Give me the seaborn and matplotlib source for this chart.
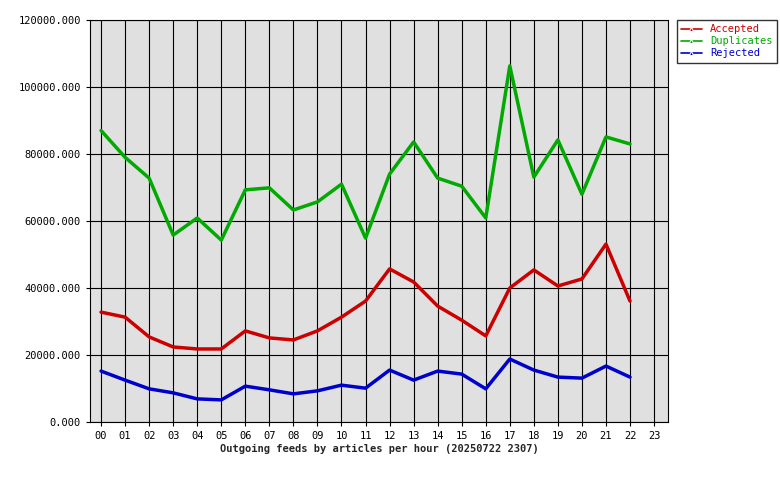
import matplotlib
matplotlib.use("Agg")
import matplotlib.pyplot as plt
import pandas as pd
import seaborn as sns
from matplotlib.ticker import FuncFormatter

hours = ["%02d" % h for h in range(23)]
all_hours = ["%02d" % h for h in range(24)]

accepted = [32800, 31300, 25400, 22400, 21800, 21800, 27200, 25100, 24500, 27200,
            31300, 36100, 45700, 41800, 34600, 30400, 25700, 40000, 45400, 40600,
            42700, 53100, 36100]
duplicates = [87000, 79000, 72800, 55800, 60900, 54300, 69300, 69900, 63300, 65700,
              71000, 54900, 74000, 83600, 72800, 70400, 60900, 106300, 73100, 84200,
              68000, 85100, 83000]
rejected = [15200, 12500, 9900, 8700, 6900, 6600, 10700, 9600, 8400, 9300,
            11000, 10100, 15500, 12500, 15200, 14300, 9900, 18800, 15500, 13400,
            13100, 16700, 13400]

series = ["Accepted", "Duplicates", "Rejected"]
colors = ["#cc0000", "#00aa00", "#0000cc"]

df = pd.DataFrame({"hour": list(range(23)) * 3,
                   "value": accepted + duplicates + rejected,
                   "series": [s for s in series for _ in hours]})

sns.set_style("ticks")
plt.rcParams["font.family"] = ["DejaVu Sans Mono"]
plt.rcParams["font.size"] = 7.5

fig = plt.figure(figsize=(7.8, 4.8), dpi=100)
ax = fig.add_axes([90 / 780, 58 / 480, 578 / 780, 402 / 480])
ax.set_facecolor("#e0e0e0")

sns.lineplot(data=df, x="hour", y="value", hue="series", palette=colors,
             linewidth=2.5, marker="o", markersize=0, ax=ax)

ax.set_xlim(-0.46, 23.58)
ax.set_ylim(0, 120000)
ax.set_xticks(range(24))
ax.set_xticklabels(all_hours)
ax.set_yticks(range(0, 120001, 20000))
ax.yaxis.set_major_formatter(FuncFormatter(lambda v, p: "%.3f" % v))
ax.grid(True, color="black", linewidth=0.8)
ax.set_axisbelow(True)
for sp in ax.spines.values():
    sp.set_color("black")
    sp.set_linewidth(0.8)
ax.tick_params(length=3, colors="black")
ax.set_ylabel("")
ax.set_xlabel("Outgoing feeds by articles per hour (20250722 2307)",
              fontweight="bold", labelpad=2)

handles, labels = ax.get_legend_handles_labels()
for h in handles:
    h.set_linewidth(1.2)
    h.set_marker("^")
    h.set_markersize(3)
leg = ax.legend(handles, labels, loc="upper left", bbox_to_anchor=(1.015, 1.0),
                frameon=True, fancybox=False, edgecolor="black",
                borderaxespad=0, handlelength=2, labelspacing=0.2)
for t, c in zip(leg.get_texts(), colors):
    t.set_color(c)

fig.savefig("out.png", dpi=100)
